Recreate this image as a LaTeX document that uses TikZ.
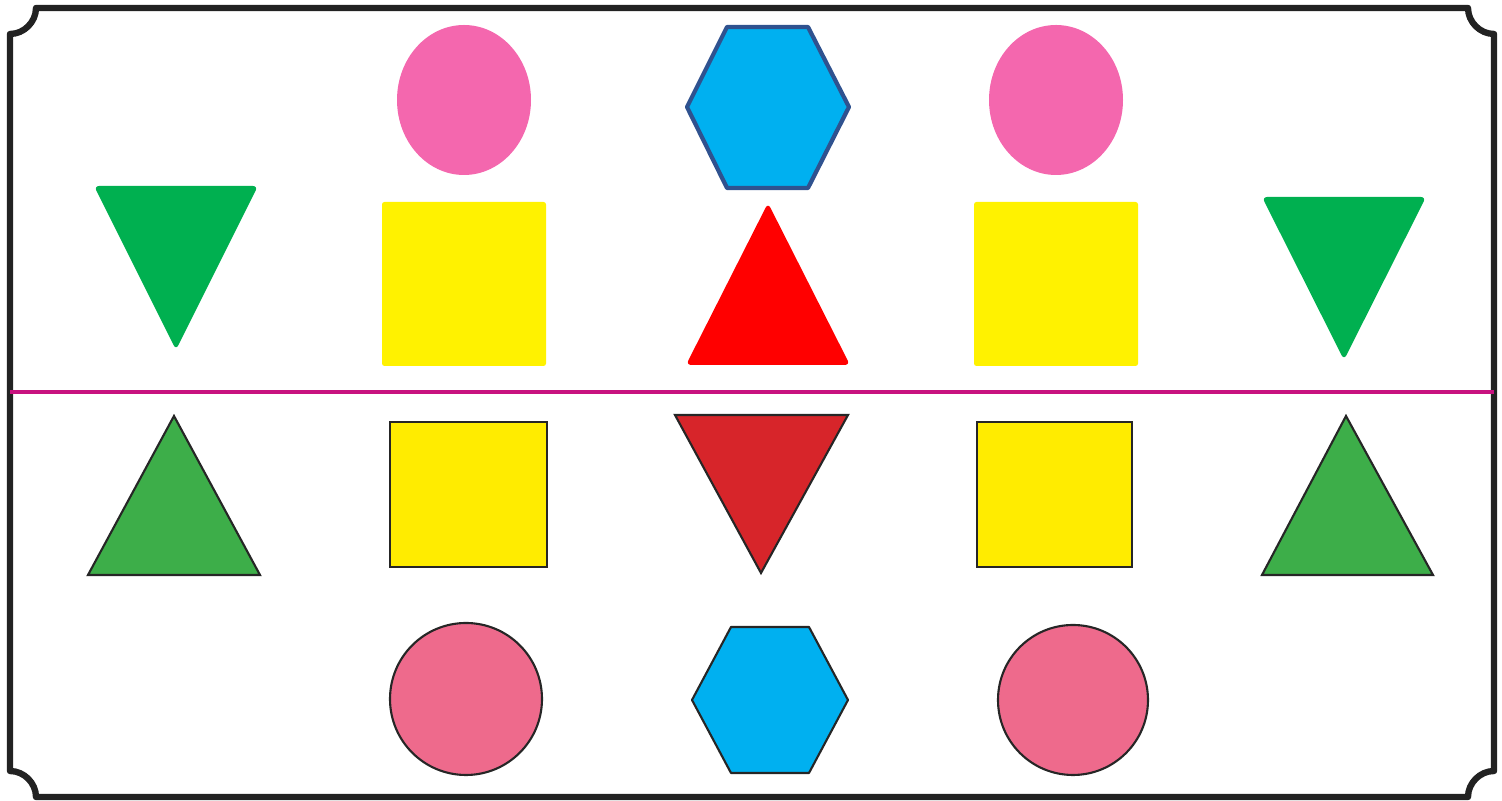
\documentclass[tikz,border=0pt]{standalone}
\usepackage{xcolor}
\definecolor{framegray}{HTML}{222222}
\definecolor{pinktop}{HTML}{F467AE}
\definecolor{skyblue}{HTML}{00B0F0}
\definecolor{hexline}{HTML}{2F528F}
\definecolor{greentop}{HTML}{00B050}
\definecolor{redtop}{HTML}{FF0000}
\definecolor{mirror}{HTML}{C8127F}
\definecolor{greenbot}{HTML}{3DAE49}
\definecolor{yellowbot}{HTML}{FFEC00}
\definecolor{redbot}{HTML}{D7252A}
\definecolor{pinkbot}{HTML}{EE6A8C}

\begin{document}
\begin{tikzpicture}[
    x=0.01cm, y=-0.01cm,
    frame/.style={draw=framegray, line width=1.8pt, line join=round},
    flat/.style={rounded corners=1.5pt},
    flatbox/.style={rounded corners=0.7pt},
    outlined/.style={draw=black!85, line width=0.6pt},
    axis/.style={draw=mirror, line width=1.4pt},
]
\useasboundingbox (0,0) rectangle (1502,801);

% Frame with notched corners
\draw[frame] (36,8) -- (1468,8) .. controls (1468,22) and (1480,34) .. (1494,34)
    -- (1494,771) .. controls (1480,771) and (1468,783) .. (1468,797)
    -- (36,797) .. controls (36,783) and (24,771) .. (10,771)
    -- (10,34) .. controls (24,34) and (36,22) .. (36,8) -- cycle;

% Top row
\foreach \cx in {464,1056}
    \fill[pinktop] (\cx,100) ellipse [x radius=67, y radius=75];
\filldraw[fill=skyblue, draw=hexline, line width=1.2pt, line join=round]
    (687,107) -- (727,27) -- (808,27) -- (849,107) -- (808,188) -- (727,188) -- cycle;
\fill[greentop, flat] (94,186) -- (258,186) -- (176,350) -- cycle;
\fill[greentop, flat] (1262,197) -- (1426,197) -- (1344,360) -- cycle;
\foreach \lx in {382,974}
    \fill[yellow, flatbox] (\lx,202) rectangle ++(164,164);
\fill[redtop, flat] (768,203) -- (850,365) -- (686,365) -- cycle;

% Mirror line
\draw[axis] (10,392) -- (1494,392);

% Bottom row
\filldraw[outlined, fill=greenbot] (174,416) -- (260,575) -- (88,575) -- cycle;
\filldraw[outlined, fill=greenbot] (1346,416) -- (1433,575) -- (1262,575) -- cycle;
\filldraw[outlined, fill=yellowbot] (390,422) rectangle (547,567);
\filldraw[outlined, fill=yellowbot] (977,422) rectangle (1132,567);
\filldraw[outlined, fill=redbot] (675,415) -- (848,415) -- (761,573) -- cycle;
\filldraw[outlined, fill=pinkbot] (466,699) circle [radius=76];
\filldraw[outlined, fill=pinkbot] (1073,700) circle [radius=75];
\filldraw[outlined, fill=skyblue, line join=round]
    (692,700) -- (731,627) -- (809,627) -- (848,700) -- (809,773) -- (731,773) -- cycle;

\end{tikzpicture}
\end{document}
